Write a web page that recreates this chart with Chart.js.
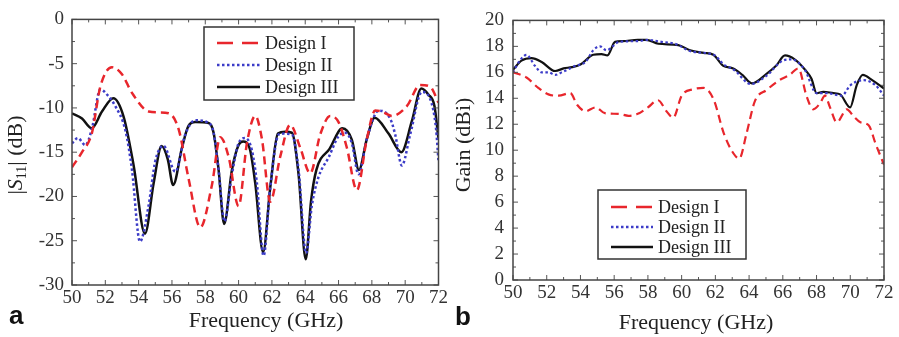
<!DOCTYPE html>
<html>
<head>
    <meta charset="UTF-8">
    <title>S11 and Gain</title>
    <script src="https://cdn.jsdelivr.net/npm/chart.js"></script>
    <style>
        body { margin: 0; background: #fff; }
        #wrap { position: relative; width: 899px; height: 337px; }
        canvas { position: absolute; top: 0; }
    </style>
</head>
<body>
<div id="wrap">
    <canvas id="chartA" width="450" height="337" style="left:0"></canvas>
    <canvas id="chartB" width="449" height="337" style="left:450px"></canvas>
</div>
<script>
    // (a) |S11| in dB
    const s11FreqI = [50, 50.6, 51.2, 51.7, 52.4, 53.0, 53.6, 54.6, 55.2, 55.8, 56.4, 57.0, 57.7, 58.4, 58.9, 59.4, 60.0, 60.5, 61.0, 61.4, 61.9, 62.5, 63.1, 63.7, 64.3, 64.9, 65.5, 66.0, 66.5, 67.1, 67.7, 68.2, 68.6, 69.2, 70.1, 70.9, 71.5, 72];
    const s11ValI = [-16.7, -15.0, -12.8, -7.6, -5.4, -6.2, -8.3, -10.4, -10.5, -10.6, -12.4, -18.0, -23.5, -18.7, -13.3, -15.5, -21.1, -14.0, -10.9, -13.5, -20.6, -15.5, -11.9, -14.5, -17.4, -13.0, -10.9, -11.6, -14.5, -19.3, -13.5, -10.3, -10.4, -10.9, -9.8, -7.4, -7.6, -9.4];

    const s11FreqII = [50, 50.35, 50.8, 51.2, 51.7, 52.2, 52.6, 53.2, 53.6, 54.08, 54.6, 55.0, 55.5, 56.2, 56.8, 57.4, 58.1, 58.5, 58.8, 59.15, 59.6, 60.0, 60.4, 60.8, 61.1, 61.5, 61.9, 62.4, 62.7, 63.2, 63.6, 64.05, 64.4, 64.8, 65.4, 66.0, 66.4, 66.8, 67.2, 67.7, 68.4, 69.1, 69.4, 69.8, 70.3, 71.0, 71.5, 71.85, 72];
    const s11ValII = [-14.0, -13.4, -14.2, -12.3, -7.9, -8.7, -9.8, -12.5, -17.0, -25.1, -21.0, -16.0, -14.3, -17.2, -13.0, -11.4, -11.6, -12.8, -17.0, -22.8, -17.5, -14.0, -13.4, -14.8, -18.5, -26.7, -19.0, -13.0, -12.9, -13.0, -17.0, -26.4, -21.0, -17.8, -15.6, -13.2, -12.8, -14.0, -17.5, -13.5, -10.3, -11.2, -13.0, -16.5, -13.0, -8.2, -9.0, -12.3, -16.0];

    const s11FreqIII = [50, 50.6, 51.18, 51.8, 52.48, 53.1, 53.7, 54.38, 54.9, 55.38, 55.75, 56.07, 56.6, 57.0, 57.4, 58.2, 58.5, 58.8, 59.13, 59.6, 60.0, 60.27, 60.67, 61.0, 61.47, 61.9, 62.36, 62.8, 63.2, 63.6, 64.03, 64.35, 64.67, 65.47, 66.23, 66.8, 67.22, 67.7, 68.17, 69.0, 69.77, 70.4, 70.97, 71.4, 71.76, 72];
    const s11ValIII = [-10.6, -11.2, -12.3, -10.4, -8.9, -11.0, -16.5, -24.2, -18.5, -14.3, -15.8, -18.7, -14.5, -12.0, -11.6, -11.7, -12.8, -17.0, -23.1, -17.0, -14.2, -13.8, -14.6, -18.5, -26.3, -19.0, -12.9, -12.7, -12.8, -17.5, -27.1, -20.5, -17.0, -14.6, -12.3, -13.6, -17.0, -13.5, -11.1, -12.9, -15.0, -11.5, -7.8, -8.5, -9.8, -13.5];

    // (b) gain in dBi
    const gainFreqI = [50, 50.8, 51.5, 52.1, 52.7, 53.4, 53.8, 54.3, 54.9, 55.45, 56.25, 56.85, 57.4, 58.0, 58.6, 59.1, 59.5, 60.0, 60.7, 61.3, 61.9, 62.5, 63.0, 63.42, 63.85, 64.35, 65.05, 65.8, 66.4, 66.92, 67.4, 67.8, 68.2, 68.5, 68.8, 69.2, 69.8, 70.2, 70.6, 71.1, 71.5, 71.87, 72];
    const gainValI = [16.0, 15.6, 14.8, 14.3, 14.2, 14.4, 13.5, 13.0, 13.3, 12.85, 12.8, 12.65, 12.8, 13.3, 13.85, 13.0, 12.5, 14.2, 14.7, 14.8, 13.9, 11.3, 9.9, 9.35, 11.3, 13.8, 14.65, 15.4, 15.8, 16.3, 14.2, 13.15, 13.6, 14.2, 13.3, 12.15, 13.15, 12.6, 12.15, 11.9, 10.5, 9.3, 8.9];

    const gainFreqII = [50, 50.4, 50.8, 51.3, 51.7, 52.1, 52.5, 52.9, 53.7, 54.3, 54.76, 55.15, 55.55, 56.3, 57.4, 58.0, 58.8, 59.6, 60.6, 61.9, 62.5, 63.1, 64.1, 65.0, 66.0, 66.5, 67.3, 68.0, 68.6, 69.5, 70.0, 70.8, 71.5, 72];
    const gainValII = [16.0, 16.9, 17.35, 16.5, 16.0, 16.0, 15.8, 16.0, 16.5, 16.8, 17.7, 18.0, 17.7, 18.35, 18.4, 18.5, 18.35, 18.2, 17.6, 17.35, 16.6, 16.2, 15.1, 15.7, 16.9, 17.0, 16.2, 14.4, 14.4, 14.2, 15.0, 15.4, 15.0, 14.2];

    const gainFreqIII = [50, 50.5, 51.1, 51.7, 52.5, 53.0, 53.5, 54.0, 54.76, 55.25, 55.6, 56.05, 56.5, 57.4, 57.9, 58.62, 59.8, 60.5, 61.3, 61.88, 62.47, 63.06, 63.6, 64.16, 65.05, 65.6, 66.13, 66.7, 67.32, 67.7, 68.0, 68.4, 69.0, 69.4, 69.99, 70.38, 70.74, 71.3, 72];
    const gainValIII = [16.2, 16.9, 17.1, 16.8, 16.1, 16.3, 16.4, 16.6, 17.35, 17.4, 17.3, 18.35, 18.4, 18.5, 18.5, 18.2, 18.1, 17.7, 17.5, 17.35, 16.5, 16.3, 15.8, 15.15, 15.9, 16.5, 17.3, 17.0, 16.2, 15.5, 14.4, 14.5, 14.4, 14.3, 13.3, 15.0, 15.8, 15.4, 14.75];

    const seriesNames = ['Design I', 'Design II', 'Design III'];
    const xTitle = 'Frequency (GHz)';
    const gainTitle = 'Gain (dBi)';

    const RED = '#e8262c', BLUE = '#3c3cc8', BLACK = '#111';
    const serif = "'Liberation Serif', 'Times New Roman', serif";

    function pts(xs, ys) {
        return xs.map((x, i) => ({ x: x, y: ys[i] }));
    }

    function makeSets(fr, vals, width) {
        const styles = [
            { c: RED, dash: [8, 5], legDash: [16, 9] },
            { c: BLUE, dash: [2.5, 2.5], legDash: [2.5, 2.5] },
            { c: BLACK, dash: [], legDash: [] }
        ];
        return seriesNames.map((name, i) => ({
            label: name,
            data: pts(fr[i], vals[i]),
            borderColor: styles[i].c,
            borderDash: styles[i].dash,
            legendDash: styles[i].legDash,
            borderWidth: width,
            pointRadius: 0,
            fill: false,
            cubicInterpolationMode: 'monotone'
        }));
    }

    // frame with inward major/minor ticks on all four sides
    const framePlugin = {
        id: 'frame',
        afterDatasetsDraw(chart, args, o) {
            const { ctx, chartArea: a } = chart;
            const x = chart.scales.x, y = chart.scales.y;
            ctx.save();
            ctx.strokeStyle = '#555';
            ctx.lineWidth = 1;
            ctx.beginPath();
            const nx = Math.round((x.max - x.min) / o.xMinor);
            for (let i = 0; i <= nx; i++) {
                const px = x.getPixelForValue(x.min + i * o.xMinor);
                const len = i % 2 === 0 ? 5 : 3;
                ctx.moveTo(px, a.bottom); ctx.lineTo(px, a.bottom - len);
                ctx.moveTo(px, a.top); ctx.lineTo(px, a.top + len);
            }
            const ny = Math.round((y.max - y.min) / o.yMinor);
            for (let i = 0; i <= ny; i++) {
                const py = y.getPixelForValue(y.min + i * o.yMinor);
                const len = i % 2 === 0 ? 5 : 3;
                ctx.moveTo(a.left, py); ctx.lineTo(a.left + len, py);
                ctx.moveTo(a.right, py); ctx.lineTo(a.right - len, py);
            }
            ctx.stroke();
            ctx.lineWidth = 1.5;
            ctx.strokeStyle = '#444';
            ctx.strokeRect(a.left, a.top, a.width, a.height);
            ctx.restore();
        }
    };

    // boxed legend inside the plot
    const boxLegend = {
        id: 'boxLegend',
        afterDraw(chart, args, o) {
            const ctx = chart.ctx;
            ctx.save();
            ctx.fillStyle = '#fff';
            ctx.fillRect(o.left, o.top, o.width, o.height);
            ctx.strokeStyle = '#333';
            ctx.lineWidth = 1.5;
            ctx.strokeRect(o.left, o.top, o.width, o.height);
            chart.data.datasets.forEach((ds, i) => {
                const yy = o.top + o.firstRow + i * o.rowGap;
                ctx.beginPath();
                ctx.setLineDash(ds.legendDash);
                ctx.strokeStyle = ds.borderColor;
                ctx.lineWidth = 2.5;
                ctx.moveTo(o.lineX0, yy);
                ctx.lineTo(o.lineX1, yy);
                ctx.stroke();
                ctx.setLineDash([]);
                ctx.fillStyle = '#222';
                ctx.font = '18px ' + serif;
                ctx.textBaseline = 'middle';
                ctx.fillText(ds.label, o.textX, yy + 1);
            });
            ctx.restore();
        }
    };

    // axis titles and panel letter
    const titles = {
        id: 'titles',
        afterDraw(chart, args, o) {
            const ctx = chart.ctx;
            ctx.save();
            ctx.fillStyle = '#222';
            ctx.textBaseline = 'alphabetic';
            ctx.font = '22px ' + serif;
            ctx.textAlign = 'center';
            ctx.fillText(xTitle, o.xTitleX, o.xTitleY);

            // rotated y title, made of pieces
            ctx.translate(o.yTitleX, o.yTitleY);
            ctx.rotate(-Math.PI / 2);
            ctx.textAlign = 'left';
            const parts = o.yParts;
            let total = 0;
            parts.forEach(p => { ctx.font = p.font; total += ctx.measureText(p.t).width; });
            let cx = -total / 2;
            parts.forEach(p => {
                ctx.font = p.font;
                ctx.fillText(p.t, cx, 7 + (p.dy || 0));
                cx += ctx.measureText(p.t).width;
            });
            ctx.setTransform(1, 0, 0, 1, 0, 0);

            ctx.font = "bold 26px 'Liberation Sans', Arial, sans-serif";
            ctx.textAlign = 'left';
            ctx.fillStyle = '#111';
            ctx.fillText(o.letter, o.letterX, o.letterY);
            ctx.restore();
        }
    };

    function baseOptions(cfg) {
        return {
            responsive: false,
            animation: false,
            devicePixelRatio: 1,
            layout: { autoPadding: false, padding: { left: 0, top: cfg.top, right: cfg.right, bottom: 0 } },
            plugins: {
                legend: { display: false },
                tooltip: { enabled: false },
                frame: { xMinor: 1, yMinor: cfg.yMinor },
                boxLegend: cfg.legend,
                titles: cfg.titles
            },
            scales: {
                x: {
                    type: 'linear', min: 50, max: 72,
                    grid: { display: false, drawTicks: false },
                    border: { display: false },
                    ticks: { stepSize: 2, padding: 2, maxRotation: 0, color: '#333', font: { family: serif, size: 19 } },
                    afterFit: s => { s.height = cfg.xHeight; }
                },
                y: {
                    min: cfg.yMin, max: cfg.yMax,
                    grid: { display: false, drawTicks: false },
                    border: { display: false },
                    ticks: { stepSize: cfg.yStep, padding: cfg.yPad, color: '#333', font: { family: serif, size: 19 } },
                    afterFit: s => { s.width = cfg.yWidth; }
                }
            }
        };
    }

    new Chart(document.getElementById('chartA'), {
        type: 'line',
        data: { datasets: makeSets([s11FreqI, s11FreqII, s11FreqIII], [s11ValI, s11ValII, s11ValIII], 2.5) },
        options: baseOptions({
            top: 15, right: 11, xHeight: 52, yWidth: 72, yPad: 8,
            yMin: -30, yMax: 0, yStep: 5, yMinor: 2.5,
            legend: { left: 204, top: 27, width: 150, height: 73, firstRow: 16, rowGap: 22, lineX0: 217, lineX1: 260, textX: 265 },
            titles: {
                xTitleX: 266, xTitleY: 327, yTitleX: 15, yTitleY: 155,
                yParts: [
                    { t: '|', font: '22px ' + serif },
                    { t: 'S', font: 'italic 22px ' + serif },
                    { t: '11', font: '14px ' + serif, dy: 4 },
                    { t: '| (dB)', font: '22px ' + serif }
                ],
                letter: 'a', letterX: 9, letterY: 324
            }
        }),
        plugins: [framePlugin, boxLegend, titles]
    });

    new Chart(document.getElementById('chartB'), {
        type: 'line',
        data: { datasets: makeSets([gainFreqI, gainFreqII, gainFreqIII], [gainValI, gainValII, gainValIII], 2.2) },
        options: baseOptions({
            top: 14, right: 15, xHeight: 57, yWidth: 63, yPad: 9,
            yMin: 0, yMax: 20, yStep: 2, yMinor: 1,
            legend: { left: 148, top: 190, width: 148, height: 69, firstRow: 17, rowGap: 20, lineX0: 161, lineX1: 203, textX: 208 },
            titles: {
                xTitleX: 246, xTitleY: 329, yTitleX: 13, yTitleY: 145,
                yParts: [{ t: gainTitle, font: '22px ' + serif }],
                letter: 'b', letterX: 5, letterY: 325
            }
        }),
        plugins: [framePlugin, boxLegend, titles]
    });
</script>
</body>
</html>
